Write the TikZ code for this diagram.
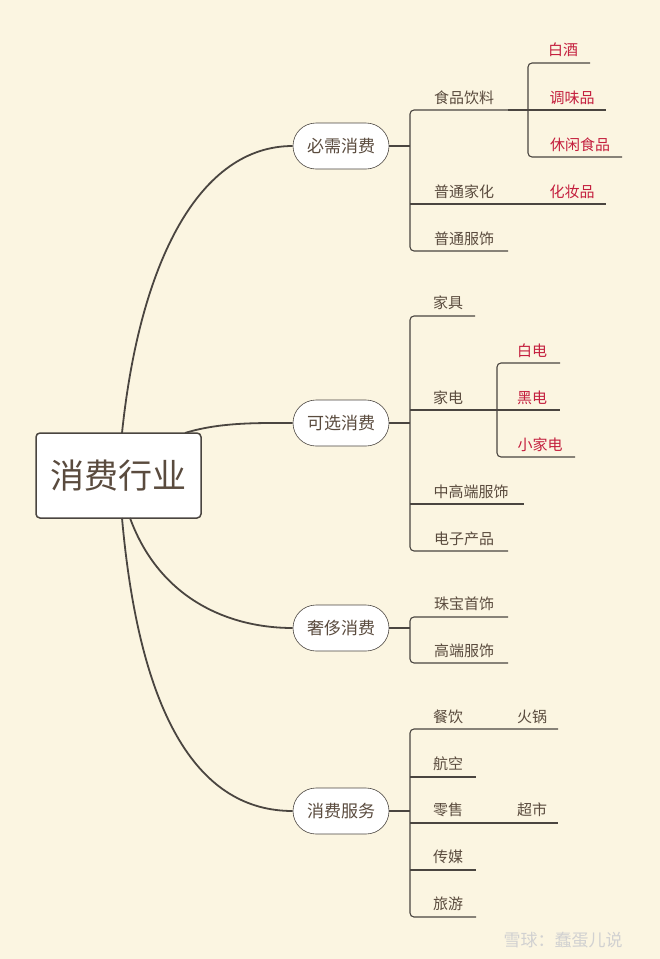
\documentclass[tikz,border=0pt]{standalone}
\usepackage{fontspec}
\setmainfont{Noto Sans CJK SC}
\begin{document}
\begin{tikzpicture}[x=1pt,y=-1pt,
  txt/.style={text=brn,font=\fontsize{15}{15}\selectfont,inner sep=0pt},
  red/.style={txt,text=rd},
  pill/.style={draw=lnc,line width=0.6pt,fill=white,rounded corners=23pt,minimum width=96pt,minimum height=46pt,text=brn,font=\fontsize{17}{17}\selectfont},
  ln/.style={draw=lnc,line width=1.1pt},
  crv/.style={draw=lnc,line width=1.8pt}]
\definecolor{bg}{HTML}{FBF5E1}
\definecolor{brn}{HTML}{5A4B3E}
\definecolor{rd}{HTML}{C41F3E}
\definecolor{lnc}{HTML}{4A4540}
\fill[bg] (0,0) rectangle (660,959);
\useasboundingbox (0,0) rectangle (660,959);
% root
\node[draw=lnc,line width=1.5pt,fill=white,rounded corners=4pt,minimum width=165pt,minimum height=85pt,text=brn,font=\fontsize{34}{34}\selectfont] (root) at (118.5,475.5) {消费行业};
\node[pill] (a) at (341,146) {必需消费};
\node[pill] (b) at (341,423) {可选消费};
\node[pill] (c) at (341,628) {奢侈消费};
\node[pill] (d) at (341,811) {消费服务};
\coordinate (r1) at (122,433);
\coordinate (r2) at (185,433);
\coordinate (r3) at (130,518);
\coordinate (r4) at (122,518);
\draw[crv] (r1) .. controls (140,260) and (200,146) .. (a.west);
\draw[crv] (r2) .. controls (220,422) and (260,423) .. (b.west);
\draw[crv] (r3) .. controls (160,600) and (230,628) .. (c.west);
\draw[crv] (r4) .. controls (140,720) and (200,811) .. (d.west);
% texts
\node[txt] (a1) at (464,98) {食品饮料};
\node[txt] (a2) at (464,192) {普通家化};
\node[txt] (a3) at (464,239) {普通服饰};
\node[red] (a11) at (563,50) {白酒};
\node[red] (a12) at (572,98) {调味品};
\node[red] (a13) at (580,145) {休闲食品};
\node[red] (a21) at (572,192) {化妆品};
\node[txt] (b1) at (448,303) {家具};
\node[txt] (b2) at (448,398) {家电};
\node[txt] (b3) at (471,492) {中高端服饰};
\node[txt] (b4) at (464,539) {电子产品};
\node[red] (b21) at (532,351) {白电};
\node[red] (b22) at (532,398) {黑电};
\node[red] (b23) at (540,445) {小家电};
\node[txt] (c1) at (464,604) {珠宝首饰};
\node[txt] (c2) at (464,651) {高端服饰};
\node[txt] (d1) at (448,717) {餐饮};
\node[txt] (d2) at (448,764) {航空};
\node[txt] (d3) at (448,810) {零售};
\node[txt] (d4) at (448,857) {传媒};
\node[txt] (d5) at (448,904) {旅游};
\node[txt] (d11) at (532,717) {火锅};
\node[txt] (d31) at (532,810) {超市};
% connectors 必需
\draw[ln] (a.east) -- (410,146);
\draw[ln,rounded corners=4pt] (508,110) -- (410,110) -- (410,251) -- (508,251);
\draw[ln] (410,204) -- (606,204);
\draw[ln] (508,110) -- (528,110);
\draw[ln,rounded corners=4pt] (590,63) -- (528,63) -- (528,157) -- (622,157);
\draw[ln] (528,110) -- (606,110);
% 可选
\draw[ln] (b.east) -- (410,423);
\draw[ln,rounded corners=4pt] (475,316) -- (410,316) -- (410,551) -- (508,551);
\draw[ln] (410,410) -- (497,410);
\draw[ln] (410,504) -- (524,504);
\draw[ln,rounded corners=4pt] (560,363) -- (497,363) -- (497,457) -- (575,457);
\draw[ln] (497,410) -- (560,410);
% 奢侈
\draw[ln] (c.east) -- (410,628);
\draw[ln,rounded corners=4pt] (508,617) -- (410,617) -- (410,663) -- (508,663);
% 服务
\draw[ln] (d.east) -- (410,811);
\draw[ln,rounded corners=4pt] (558,729) -- (410,729) -- (410,917) -- (476,917);
\draw[ln] (410,777) -- (476,777);
\draw[ln] (410,823) -- (558,823);
\draw[ln] (410,870) -- (476,870);
% watermark
\node[text=black!18,font=\fontsize{17}{17}\selectfont,inner sep=0pt] (wm) at (563,940) {雪球：蠢蛋儿说};
\end{tikzpicture}
\end{document}
